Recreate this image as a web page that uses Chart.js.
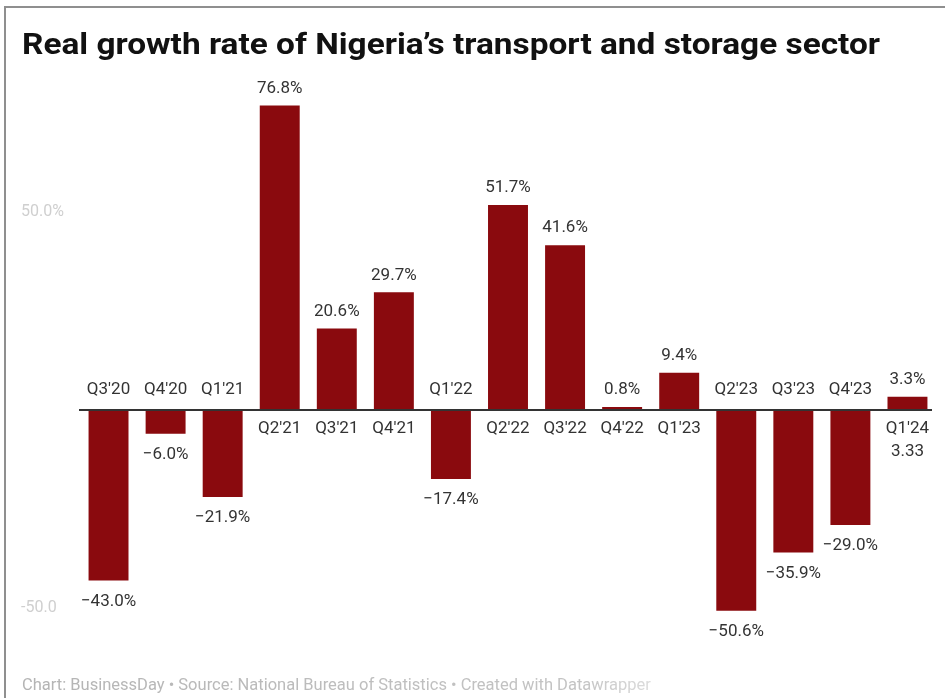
<!DOCTYPE html>
<html lang="en">
<head>
  <meta charset="UTF-8">
  <title>Real growth rate of Nigeria's transport and storage sector</title>
  <script src="https://cdn.jsdelivr.net/npm/chart.js"></script>
  <style>
    html, body { margin: 0; padding: 0; background: #fff; }
    canvas { display: block; }
  </style>
</head>
<body>
  <canvas id="grafico" width="945" height="698"></canvas>

  <script>
    // quarters and real growth (%)
    const quarters = ["Q3'20", "Q4'20", "Q1'21", "Q2'21", "Q3'21", "Q4'21", "Q1'22", "Q2'22",
                      "Q3'22", "Q4'22", "Q1'23", "Q2'23", "Q3'23", "Q4'23", "Q1'24"];
    const growth = [-43.0, -6.0, -21.9, 76.8, 20.6, 29.7, -17.4, 51.7,
                    41.6, 0.8, 9.4, -50.6, -35.9, -29.0, 3.33];
    // extra line under the last category label
    const extraNote = { "Q1'24": "3.33" };
    const yTicks = [50, -50];
    const yTickLabels = ['50.0%', '-50.0'];

    const titulo = "Real growth rate of Nigeria\u2019s transport and storage sector";
    const rodape = 'Chart: BusinessDay \u2022 Source: National Bureau of Statistics \u2022 Created with Datawrapper';

    const fonte = 'Roboto, "Liberation Sans", sans-serif';

    const moldura = {
      id: 'moldura',
      beforeDraw(chart) {
        const ctx = chart.ctx;
        ctx.save();
        ctx.fillStyle = '#fff';
        ctx.fillRect(0, 0, chart.width, chart.height);

        // frame lines (top and left)
        ctx.strokeStyle = '#8f8f8f';
        ctx.lineWidth = 2;
        ctx.beginPath();
        ctx.moveTo(5, chart.height);
        ctx.lineTo(5, 7);
        ctx.lineTo(chart.width, 7);
        ctx.stroke();

        // title, squeezed to fit the header width
        ctx.font = 'bold 30px ' + fonte;
        ctx.fillStyle = '#111';
        ctx.textBaseline = 'alphabetic';
        const w = ctx.measureText(titulo).width;
        const alvo = 858;
        ctx.translate(22, 54);
        ctx.scale(alvo / w, 1);
        ctx.fillText(titulo, 0, 0);
        ctx.restore();

        // footer
        ctx.save();
        ctx.font = '16.5px ' + fonte;
        const grad = ctx.createLinearGradient(22, 0, 680, 0);
        grad.addColorStop(0, '#b4b4b4');
        grad.addColorStop(0.85, '#c4c4c4');
        grad.addColorStop(1, '#e6e6e6');
        ctx.fillStyle = grad;
        ctx.textBaseline = 'middle';
        ctx.fillText(rodape, 22, 686);
        ctx.restore();
      },
      afterDatasetsDraw(chart) {
        const ctx = chart.ctx;
        const y = chart.scales.y;
        const area = chart.chartArea;
        const zero = y.getPixelForValue(0);

        ctx.save();
        // y tick labels, very faint
        ctx.font = '16px ' + fonte;
        ctx.fillStyle = '#cfcfcf';
        ctx.textAlign = 'left';
        ctx.textBaseline = 'middle';
        yTicks.forEach((v, i) => {
          ctx.fillText(yTickLabels[i], 21, y.getPixelForValue(v));
        });

        // baseline
        ctx.strokeStyle = '#333';
        ctx.lineWidth = 2;
        ctx.beginPath();
        ctx.moveTo(area.left - 1, zero);
        ctx.lineTo(area.right - 4, zero);
        ctx.stroke();

        // value and category labels
        ctx.font = '17px ' + fonte;
        ctx.fillStyle = '#333';
        ctx.textAlign = 'center';
        const meta = chart.getDatasetMeta(0);
        meta.data.forEach((bar, i) => {
          const v = growth[i];
          const cx = bar.x;
          const txt = v.toFixed(1) + '%';
          if (v >= 0) {
            ctx.fillText(txt, cx, bar.y - 17);
            ctx.fillText(quarters[i], cx, zero + 19);
            if (extraNote[quarters[i]]) ctx.fillText(extraNote[quarters[i]], cx, zero + 42);
          } else {
            ctx.fillText(txt.replace('-', '\u2212'), cx, bar.y + 21);
            ctx.fillText(quarters[i], cx, zero - 20);
          }
        });
        ctx.restore();
      }
    };

    new Chart(document.getElementById('grafico'), {
      type: 'bar',
      data: {
        labels: quarters,
        datasets: [{
          data: growth,
          backgroundColor: '#8a0a0e',
          borderWidth: 0,
          barPercentage: 0.7,
          categoryPercentage: 1
        }]
      },
      options: {
        responsive: false,
        animation: false,
        layout: {
          padding: { left: 80, right: 9, top: 85, bottom: 58 }
        },
        scales: {
          x: { display: false },
          y: { display: false, min: -58, max: 82 }
        },
        plugins: {
          legend: { display: false },
          tooltip: { enabled: false }
        }
      },
      plugins: [moldura]
    });
  </script>
</body>
</html>
